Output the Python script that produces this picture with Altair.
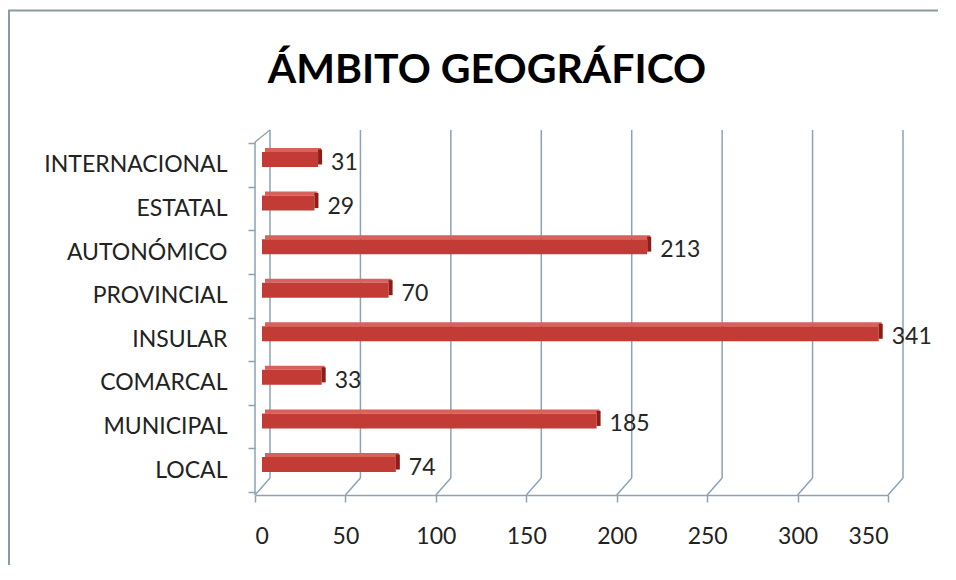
import altair as alt
import pandas as pd

categories = ["INTERNACIONAL", "ESTATAL", "AUTONÓMICO", "PROVINCIAL",
              "INSULAR", "COMARCAL", "MUNICIPAL", "LOCAL"]
values = [31, 29, 213, 70, 341, 33, 185, 74]
tick_values = [0, 50, 100, 150, 200, 250, 300, 350]
title_text = ["ÁMBITO GEOGRÁFICO"]

df = pd.DataFrame({"cat": categories, "v": values})
ticks = pd.DataFrame({"t": tick_values})
one = pd.DataFrame({"a": [0]})

W, H = 633, 365
AX = "#8DA3B4"
FONT = "Lato"
FS = 23

xs = alt.Scale(domain=[0, 350], range=[0, W], nice=False, zero=True)
ys = alt.Scale(domain=categories, range=[13.2, 361.8], paddingInner=0, paddingOuter=0)

xaxis = alt.Axis(values=tick_values, grid=False, domainColor=AX, domainWidth=1.5,
                 tickColor=AX, tickWidth=1.5, tickSize=7, labelFont=FONT,
                 labelFontSize=FS, labelColor="#222222", labelPadding=23, title=None)
yaxis = alt.Axis(grid=False, domain=False, tickColor=AX, tickWidth=1.5, tickSize=7,
                 tickBand="extent", labelFont=FONT, labelFontSize=FS, labelLimit=400,
                 labelColor="#222222", labelPadding=21, title=None)

X = lambda f="v:Q": alt.X(f, scale=xs, axis=xaxis)
Y = lambda: alt.Y("cat:N", scale=ys, sort=categories, axis=yaxis)

grid = alt.Chart(ticks).mark_rule(color=AX, strokeWidth=1.5, xOffset=15).encode(
    x=X("t:Q"), y=alt.value(0), y2=alt.value(348))
diag = alt.Chart(ticks).mark_rule(color=AX, strokeWidth=1.5, xOffset=15, x2Offset=0).encode(
    x=X("t:Q"), x2="t:Q", y=alt.value(348), y2=alt.value(365))
left_axis = alt.Chart(one).mark_rule(color=AX, strokeWidth=1.5).encode(
    x=alt.value(0), y=alt.value(12), y2=alt.value(365))
corner = alt.Chart(one).mark_rule(color=AX, strokeWidth=1.5).encode(
    x=alt.value(0), x2=alt.value(15), y=alt.value(12), y2=alt.value(0))

border_l = alt.Chart(one).mark_rule(color="#8A9AA3", strokeWidth=2).encode(
    x=alt.value(-246), y=alt.value(-120), y2=alt.value(460))
border_t = alt.Chart(one).mark_rule(color="#8A9AA3", strokeWidth=2).encode(
    x=alt.value(-247), x2=alt.value(700), y=alt.value(-119.5), y2=alt.value(-119.5))

front = alt.Chart(df).mark_bar(color="#C23B35", size=15, yOffset=-5.5,
                               xOffset=7, x2Offset=7).encode(x=X(), y=Y())
top = alt.Chart(df).mark_bar(color="#D6625B", size=4, yOffset=-15,
                             xOffset=10, x2Offset=10).encode(x=X(), y=Y())
side = alt.Chart(df).mark_bar(color="#8E1C18", size=15, yOffset=-8,
                              xOffset=7, x2Offset=11).encode(x=X(), x2="v:Q", y=Y())
labels = alt.Chart(df).mark_text(align="left", baseline="middle", dx=20, dy=-2,
                                 fontSize=FS, font=FONT, color="#262626").encode(
    x=X(), y=Y(), text="v:Q")

title = alt.Chart(pd.DataFrame({"t": title_text})).mark_text(
    font=FONT, fontSize=41, fontWeight="bold", color="#000000",
    align="center", baseline="alphabetic").encode(
    x=alt.value(232), y=alt.value(-47), text="t:N")

chart = alt.layer(border_l, border_t, grid, diag, left_axis, corner,
                  top, front, side, labels, title).properties(
    width=W, height=H,
    autosize=alt.AutoSizeParams(type="none"),
    padding={"left": 247, "top": 122, "right": 50, "bottom": 70},
    background="white",
).configure_view(stroke=None)

chart.save("out.html", embed_options={"renderer": "svg", "actions": False})
